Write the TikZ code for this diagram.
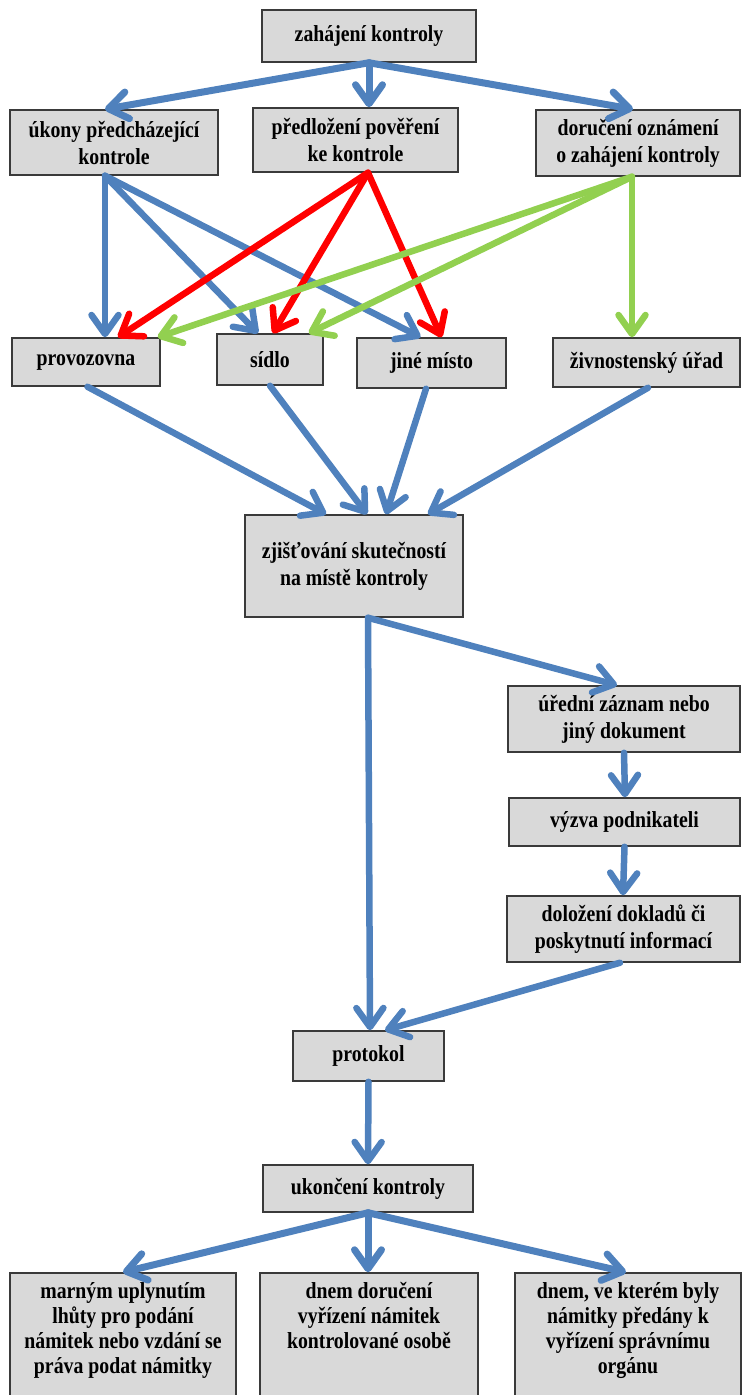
\documentclass[tikz,border=0pt]{standalone}
\usepackage{fontspec}
\setmainfont{Liberation Serif}[FakeStretch=0.86]
\usetikzlibrary{arrows.meta,calc}
\definecolor{ablue}{HTML}{4F81BD}
\definecolor{ared}{HTML}{FF0000}
\definecolor{agreen}{HTML}{92D050}
\definecolor{boxfill}{HTML}{D9D9D9}
\definecolor{boxline}{HTML}{3A3A3A}
\begin{document}
\begin{tikzpicture}[x=1pt,y=-1pt,
  box/.style={draw=boxline, fill=boxfill, line width=1.5pt, inner sep=0pt, align=center,
    font=\fontsize{23}{27}\selectfont\bfseries},
  boxtext/.style={inner sep=0pt, align=center, font=\fontsize{23}{25}\selectfont\bfseries},
  arr/.style={line width=6.5pt, line cap=round, line join=round,
    -{Straight Barb[round,length=19pt,width=27pt]}},
  thick arr/.style={line width=7pt},
  blu/.style={arr, draw=ablue},
  rd/.style={arr, draw=ared},
  grn/.style={arr, draw=agreen}]
\useasboundingbox (0,0) rectangle (742,1395);
% nodes
\node[box, minimum width=214pt, minimum height=52pt] (zah) at (369,36) {zahájení kontroly};
\node[box, minimum width=208pt, minimum height=65pt] (ukony) at (114,142.5) {úkony předcházející\\kontrole};
\node[box, minimum width=205pt, minimum height=64pt] (predl) at (355.5,140) {předložení pověření\\ke kontrole};
\node[box, minimum width=204pt, minimum height=66pt] (dor) at (638,143) {doručení oznámení\\o zahájení kontroly};
\node[box, minimum width=148pt, minimum height=48pt] (prov) at (86,362) {provozovna};
\node[box, minimum width=106pt, minimum height=51pt] (sidlo) at (270,359.5) {sídlo};
\node[box, minimum width=149pt, minimum height=50pt] (jine) at (431.5,363) {jiné místo};
\node[box, minimum width=187pt, minimum height=49pt] (ziv) at (646.5,362.5) {živnostenský úřad};
\node[box, minimum width=218pt, minimum height=102pt] (zjist) at (354,566) {zjišťování skutečností\\na místě kontroly};
\node[box, minimum width=232pt, minimum height=66pt] (ured) at (624,719) {úřední záznam nebo\\jiný dokument};
\node[box, minimum width=231pt, minimum height=48pt] (vyzva) at (624.5,822) {výzva podnikateli};
\node[box, minimum width=233pt, minimum height=66pt] (dolo) at (623.5,929) {doložení dokladů či\\poskytnutí informací};
\node[box, minimum width=151pt, minimum height=50pt] (prot) at (368.5,1056) {protokol};
\node[box, minimum width=210pt, minimum height=47pt] (ukon) at (368,1188.5) {ukončení kontroly};
\node[box, minimum width=226pt, minimum height=130pt] (b1) at (123,1338) {};
\node[box, minimum width=218pt, minimum height=130pt] (b2) at (369,1338) {};
\node[box, minimum width=226pt, minimum height=130pt] (b3) at (628,1338) {};
\node[boxtext, anchor=north] (b1t) at ([yshift=-10pt]b1.north) {marným uplynutím\\lhůty pro podání\\námitek nebo vzdání se\\práva podat námitky};
\node[boxtext, anchor=north] (b2t) at ([yshift=-10pt]b2.north) {dnem doručení\\vyřízení námitek\\kontrolované osobě};
\node[boxtext, anchor=north] (b3t) at ([yshift=-10pt]b3.north) {dnem, ve kterém byly\\námitky předány k\\vyřízení správnímu\\orgánu};
% top fan
\draw[blu, thick arr] (zah.south) -- ([xshift=-9pt]ukony.north);
\draw[blu, thick arr] (zah.south) -- ([xshift=13.5pt]predl.north);
\draw[blu, thick arr] (zah.south) -- ([xshift=-5pt]dor.north);
% from ukony
\draw[blu] ([xshift=-9pt]ukony.south) -- ([xshift=19pt]prov.north);
\draw[blu] ([xshift=-9pt]ukony.south) -- ([xshift=-12pt]sidlo.north);
\draw[blu] ([xshift=-9pt]ukony.south) -- ([xshift=-11pt]jine.north);
% from predl
\draw[rd] ([xshift=12.5pt]predl.south) -- ([xshift=32pt]prov.north);
\draw[rd] ([xshift=12.5pt]predl.south) -- ([xshift=3pt]sidlo.north);
\draw[rd] ([xshift=12.5pt]predl.south) -- ([xshift=10pt]jine.north);
% from dor
\draw[grn] ([xshift=-6pt]dor.south) -- ([xshift=-3pt]prov.north east);
\draw[grn] ([xshift=-6pt]dor.south) -- ([xshift=-15pt]sidlo.north east);
\draw[grn] ([xshift=-6pt]dor.south) -- ([xshift=-14.5pt]ziv.north);
% into zjist
\draw[blu] ([xshift=1.5pt]prov.south) -- ([xshift=-28pt]zjist.north);
\draw[blu] (sidlo.south) -- ([xshift=13pt]zjist.north);
\draw[blu] ([xshift=-5.5pt]jine.south) -- ([xshift=32pt]zjist.north);
\draw[blu] ([xshift=1.5pt]ziv.south) -- ([xshift=74pt]zjist.north);
% right chain
\draw[blu] ([xshift=14pt]zjist.south) -- ([xshift=-7pt]ured.north);
\draw[blu] ([xshift=14pt]zjist.south) -- ([xshift=1.5pt]prot.north);
\draw[blu] (ured.south) -- ([xshift=0.5pt]vyzva.north);
\draw[blu] (vyzva.south) -- ([xshift=-0.5pt]dolo.north);
\draw[blu] ([xshift=-3.5pt]dolo.south) -- ([xshift=16.5pt]prot.north);
% bottom
\draw[blu] (prot.south) -- (ukon.north);
\draw[blu, thick arr] (ukon.south) -- (b1.north);
\draw[blu, thick arr] (ukon.south) -- ([xshift=-1pt]b2.north);
\draw[blu, thick arr] (ukon.south) -- ([xshift=-2pt]b3.north);
\end{tikzpicture}
\end{document}
